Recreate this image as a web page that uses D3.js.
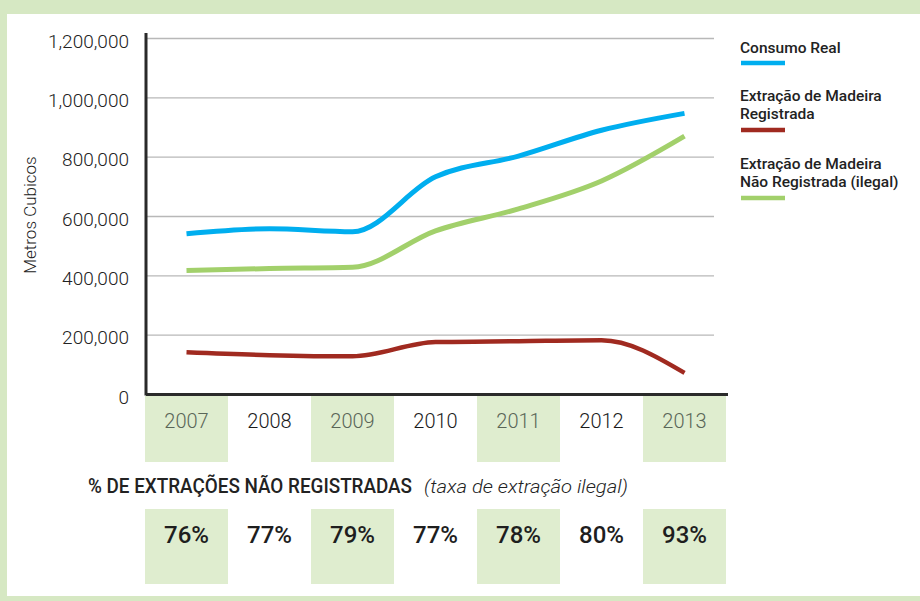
<!DOCTYPE html>
<html><head><meta charset="utf-8">
<script src="https://cdn.jsdelivr.net/npm/d3@7"></script>
<style>
html,body{margin:0;padding:0;background:#d6e8c3;}
svg{display:block;}
text{font-family:Roboto,"Noto Sans",sans-serif;}
</style></head>
<body>
<svg id="chart" width="920" height="601"></svg>
<script>
const years = ["2007","2008","2009","2010","2011","2012","2013"];
const consumoReal = [540000, 557000, 547000, 732000, 802000, 889000, 946000];
const registrada = [141000, 131000, 127000, 175000, 178000, 181000, 71000];
const naoRegistrada = [416000, 423000, 427000, 550000, 624000, 718000, 869000];
const percentIlegal = ["76%", "77%", "79%", "77%", "78%", "80%", "93%"];
const yTicks = [0, 200000, 400000, 600000, 800000, 1000000, 1200000];
const seriesNames = ["Consumo Real", "Extração de Madeira|Registrada", "Extração de Madeira|Não Registrada (ilegal)"];
const seriesColors = ["#00aeef", "#a02a20", "#a2d06b"];

const svg = d3.select("#chart");
const cellGreen = "#dfedcf";

// white panel
svg.append("rect").attr("x", 7).attr("y", 14).attr("width", 913).attr("height", 582).attr("fill", "#ffffff");

const x = d3.scaleBand().domain(years).range([145, 726]).padding(0);
const y = d3.scaleLinear().domain([0, 1200000]).range([394, 38]);
const bw = x.bandwidth();

// year cells
const yearG = svg.append("g");
yearG.selectAll("rect").data(years).join("rect")
  .attr("x", d => x(d)).attr("y", 396).attr("width", bw).attr("height", 66)
  .attr("fill", (d, i) => i % 2 === 0 ? cellGreen : "#ffffff");
yearG.selectAll("text").data(years).join("text")
  .attr("x", d => x(d) + bw / 2).attr("y", 428)
  .attr("text-anchor", "middle").attr("font-size", 20).attr("font-weight", 300)
  .attr("fill", (d, i) => i % 2 === 0 ? "#5a6658" : "#1a1a1a")
  .text(d => d);

// gridlines
const grid = svg.append("g").attr("transform", "translate(146,0)")
  .call(d3.axisLeft(y).tickValues(yTicks.filter(v => v > 0)).tickSize(-568).tickFormat(""));
grid.select(".domain").remove();
grid.selectAll("line").attr("stroke", "#b8b8b8").attr("stroke-width", 1.3);

// y axis labels
const yAxis = svg.append("g").attr("transform", "translate(146,3)")
  .call(d3.axisLeft(y).tickValues(yTicks).tickSize(0).tickPadding(17).tickFormat(d3.format(",")));
yAxis.select(".domain").remove();
yAxis.selectAll("text").attr("font-family", "Roboto, sans-serif").attr("font-size", 19)
  .attr("font-weight", 300).attr("fill", "#222");

// axis lines
svg.append("line").attr("x1", 146).attr("x2", 146).attr("y1", 33).attr("y2", 395.5)
  .attr("stroke", "#2a2a2a").attr("stroke-width", 3);
svg.append("line").attr("x1", 146).attr("x2", 728).attr("y1", 394.5).attr("y2", 394.5)
  .attr("stroke", "#2a2a2a").attr("stroke-width", 3);

// y title
svg.append("text").attr("transform", "translate(36,215) rotate(-90)")
  .attr("text-anchor", "middle").attr("font-size", 17).attr("font-weight", 300)
  .attr("fill", "#222").text("Metros Cubicos");

// lines
const line = d3.line().x((d, i) => x(years[i]) + bw / 2).y(d => y(d)).curve(d3.curveMonotoneX);
[[consumoReal, 0, 5], [naoRegistrada, 2, 5], [registrada, 1, 4.5]].forEach(([data, ci, w]) => {
  svg.append("path").datum(data).attr("d", line).attr("fill", "none")
    .attr("stroke", seriesColors[ci]).attr("stroke-width", w);
});

// legend
const legendBase = [53, 101, 169];
const swatchY = [63, 130, 198];
seriesNames.forEach((name, i) => {
  const parts = name.split("|");
  const t = svg.append("text").attr("x", 740).attr("y", legendBase[i])
    .attr("font-size", 15.5).attr("font-weight", 500).attr("fill", "#222");
  parts.forEach((p, j) => {
    t.append("tspan").attr("x", 740).attr("dy", j === 0 ? 0 : 18).text(p);
  });
  svg.append("line").attr("x1", 741).attr("x2", 785).attr("y1", swatchY[i]).attr("y2", swatchY[i])
    .attr("stroke", seriesColors[i]).attr("stroke-width", 4.5);
});

// bottom header
svg.append("text").attr("x", 88).attr("y", 493).attr("font-size", 20).attr("font-weight", 500)
  .attr("fill", "#222").attr("textLength", 324).attr("lengthAdjust", "spacingAndGlyphs")
  .text("% DE EXTRAÇÕES NÃO REGISTRADAS");
svg.append("text").attr("x", 424).attr("y", 493).attr("font-size", 19).attr("font-weight", 300)
  .attr("font-style", "italic").attr("fill", "#222")
  .attr("textLength", 204).attr("lengthAdjust", "spacingAndGlyphs")
  .text("(taxa de extração ilegal)");

// percent cells
const pctG = svg.append("g");
pctG.selectAll("rect").data(percentIlegal).join("rect")
  .attr("x", (d, i) => x(years[i])).attr("y", 509).attr("width", bw).attr("height", 75)
  .attr("fill", (d, i) => i % 2 === 0 ? cellGreen : "#ffffff");
pctG.selectAll("text").data(percentIlegal).join("text")
  .attr("x", (d, i) => x(years[i]) + bw / 2).attr("y", 543)
  .attr("text-anchor", "middle").attr("font-size", 24).attr("font-weight", 500)
  .attr("fill", "#1e1e1e").text(d => d);
</script>
</body></html>
